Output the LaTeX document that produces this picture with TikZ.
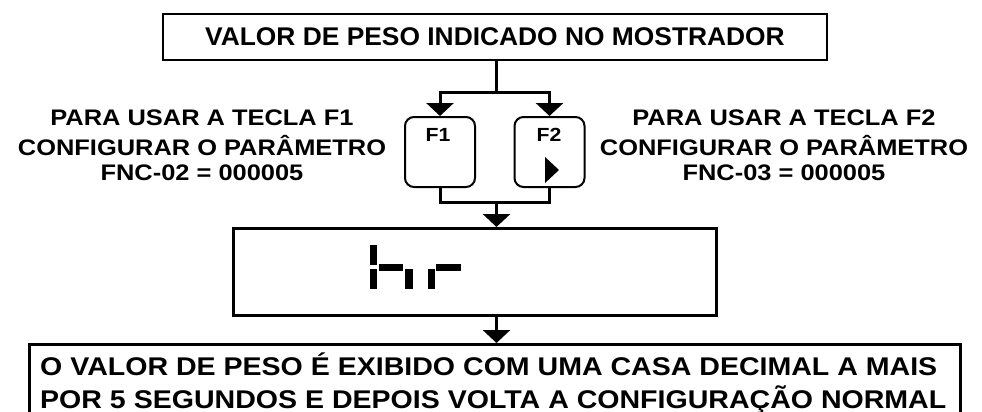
\documentclass[tikz,border=0pt]{standalone}
\usepackage{fontspec}
\setmainfont{Liberation Sans}
\newfontfamily\ftop[FakeStretch=1.03]{Liberation Sans}
\newfontfamily\fside[FakeStretch=1.13]{Liberation Sans}
\newfontfamily\fbot[FakeStretch=1.115]{Liberation Sans}
\newfontfamily\fkey[FakeStretch=1.12]{Liberation Sans}
\usetikzlibrary{arrows.meta}
\begin{document}
\begin{tikzpicture}[x=1pt,y=-1pt,
  box/.style={draw,inner sep=0pt,line width=#1},
  keybox/.style={draw,inner sep=0pt,line width=2pt,rounded corners=9pt,minimum width=70pt,minimum height=70pt},
  conn/.style={line width=3pt},
  arr/.style={line width=3pt,-{Triangle[width=27pt,length=13pt]}},
  toptext/.style={font=\ftop\bfseries\fontsize{25.6}{30}\selectfont},
  sidetext/.style={font=\fside\bfseries\fontsize{22.5}{26}\selectfont,inner sep=0pt,anchor=base},
  bottext/.style={font=\fbot\bfseries\fontsize{25.6}{30}\selectfont,inner sep=0pt,anchor=base west},
  keytext/.style={font=\fkey\bfseries\fontsize{19}{21}\selectfont,inner sep=0pt,anchor=base},
  seg/.style={fill=black}
]
\useasboundingbox (0,0) rectangle (982,412);
\clip (0,0) rectangle (982,412);

% boxes
\node[box=2pt,minimum width=664pt,minimum height=46pt,toptext] (top) at (495,37) {VALOR DE PESO INDICADO NO MOSTRADOR};
\node[keybox] (F1) at (440,152) {};
\node[keybox] (F2) at (549.5,152) {};
\node[box=3pt,minimum width=483pt,minimum height=87pt] (mid) at (475,272) {};
\node[box=3pt,minimum width=931pt,minimum height=85pt] (bot) at (495,387) {};

% key labels
\node[keytext] (k1) at (438,141.5) {F1};
\node[keytext] (k2) at (549,141.5) {F2};
\fill (545,157) -- (545,183) -- (559,170) -- cycle;

% side texts
\node[sidetext] (l1) at (202,125) {PARA USAR A TECLA F1};
\node[sidetext] (l2) at (202,155) {CONFIGURAR O PARÂMETRO};
\node[sidetext] (l3) at (202,180) {FNC-02 = 000005};
\node[sidetext] (r1) at (784,125) {PARA USAR A TECLA F2};
\node[sidetext] (r2) at (784,155) {CONFIGURAR O PARÂMETRO};
\node[sidetext] (r3) at (784,180) {FNC-03 = 000005};

% bottom texts
\node[bottext] (b1) at (40,375) {O VALOR DE PESO É EXIBIDO COM UMA CASA DECIMAL A MAIS};
\node[bottext] (b2) at (40,408) {POR 5 SEGUNDOS E DEPOIS VOLTA A CONFIGURAÇÃO NORMAL};

% seven-segment "hr"
\fill[seg] (370,245) rectangle (377,265);
\fill[seg] (370,269) rectangle (377,289);
\fill[seg] (379,264) rectangle (403,271);
\fill[seg] (405,269) rectangle (413,289);
\fill[seg] (428,269) rectangle (435,289);
\fill[seg] (436,264) rectangle (461,271);

% connectors
\coordinate (split) at (496.5,92);
\coordinate (merge) at (496.5,202);
\draw[conn] (top.south -| split) -- (split);
\draw[arr] (split) -| (F1.north);
\draw[arr] (split) -| (F2.north);
\draw[conn] (F1.south) |- (merge) -| (F2.south);
\draw[arr] (merge) -- (mid.north -| merge);
\draw[arr] (mid.south -| merge) -- (bot.north -| merge);
\end{tikzpicture}
\end{document}
